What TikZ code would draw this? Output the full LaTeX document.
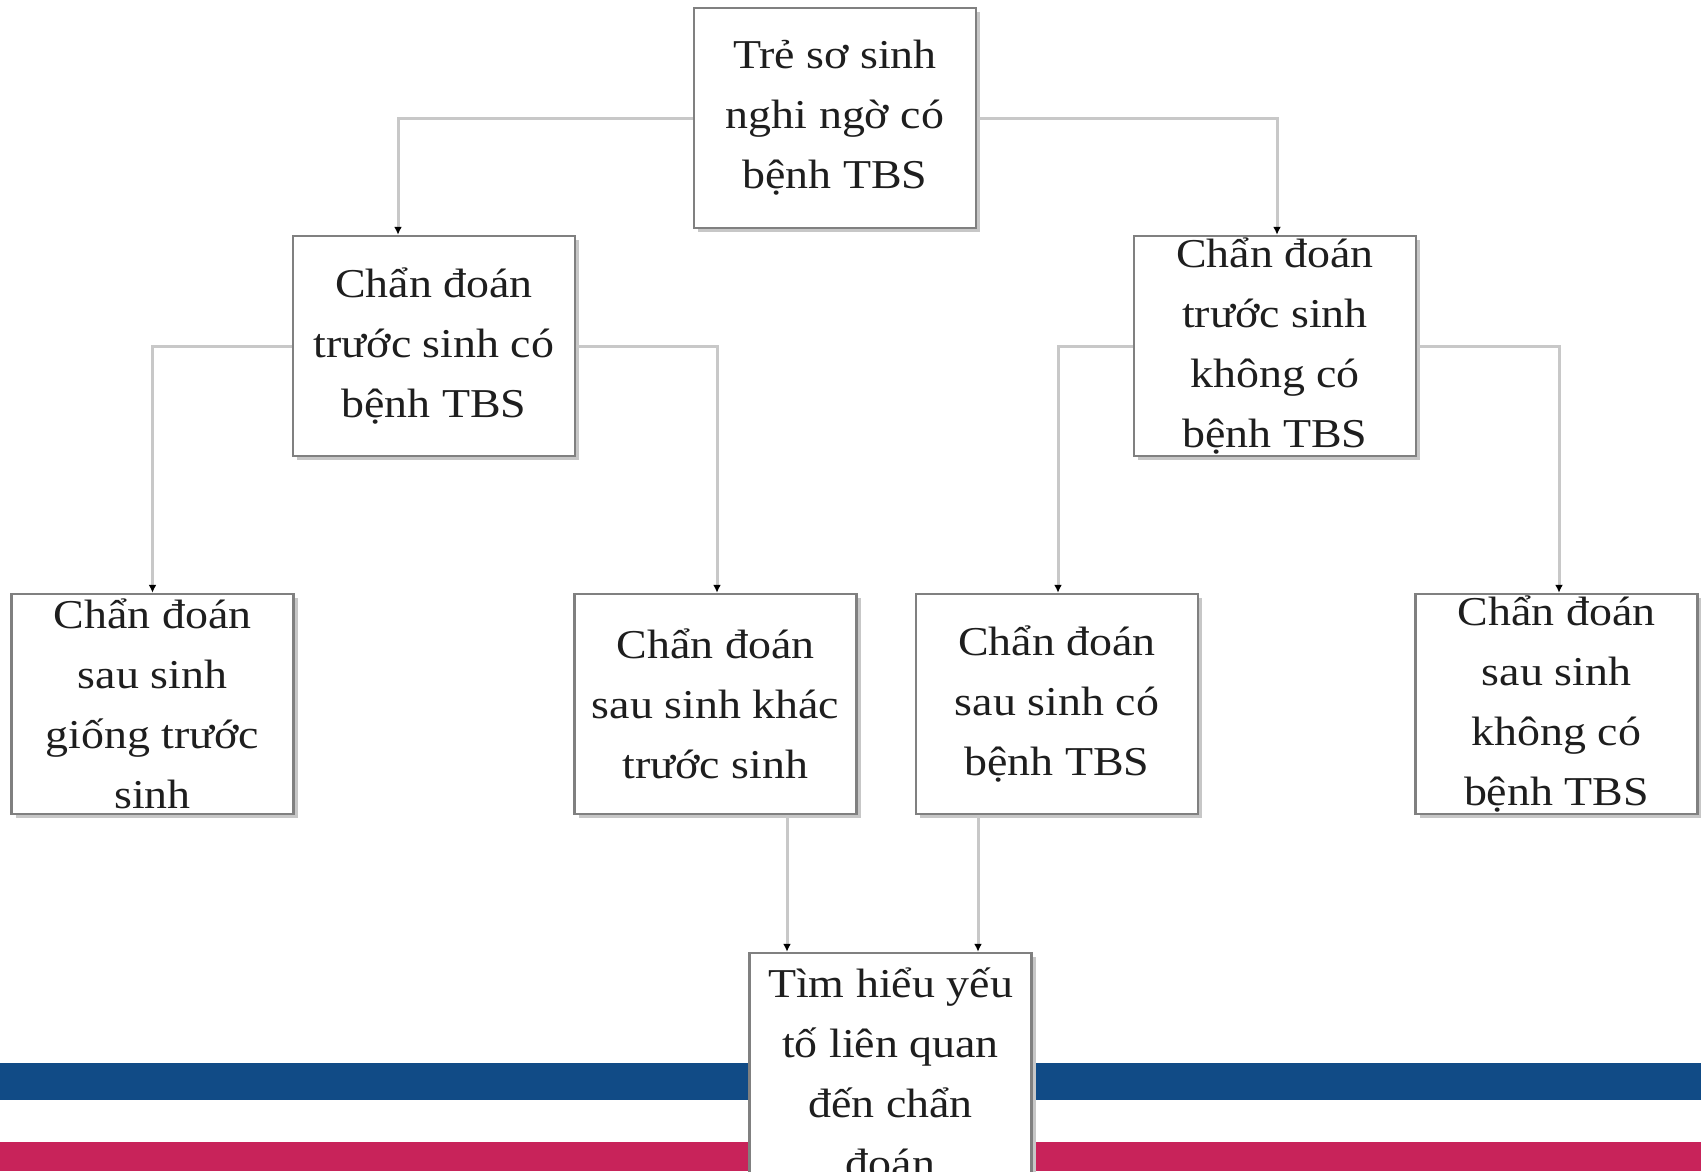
\documentclass[tikz,border=0pt]{standalone}
\usepackage{fontspec}
\setmainfont{Liberation Serif}[FakeStretch=1.12]
\usetikzlibrary{arrows.meta,shadows,calc}
\definecolor{stripeblue}{HTML}{114B86}
\definecolor{stripered}{HTML}{C8235A}
\definecolor{boxline}{HTML}{808080}
\definecolor{conn}{HTML}{C8C8C8}
\definecolor{txt}{HTML}{1E1E1E}
\tikzset{
  box/.style={draw=boxline, line width=2.5pt, fill=white, inner sep=0pt,
    minimum width=282pt, minimum height=220pt, align=center, text=txt,
    font=\fontsize{41}{60}\selectfont,
    drop shadow={shadow xshift=4pt, shadow yshift=-4pt, fill=black!22, opacity=1}},
  conn/.style={draw=conn, line width=3pt, -{Latex[black,length=8pt,width=8pt]}}
}
\begin{document}
\begin{tikzpicture}[x=1pt,y=-1pt]
\useasboundingbox (0,0) rectangle (1701,1171);
\clip (0,0) rectangle (1701,1171);
\fill[white] (0,0) rectangle (1701,1171);
% stripes
\fill[stripeblue] (0,1063) rectangle (1701,1100);
\fill[stripered] (0,1142) rectangle (1701,1171);
% boxes
\node[box] (top) at (835,118) {Trẻ sơ sinh\\nghi ngờ có\\bệnh TBS};
\node[box] (lm) at (434,346) {Chẩn đoán\\trước sinh có\\bệnh TBS};
\node[box] (rm) at (1275,346) {Chẩn đoán\\trước sinh\\không có\\bệnh TBS};
\node[box] (b1) at (152.5,704) {Chẩn đoán\\sau sinh\\giống trước\\sinh};
\node[box] (b2) at (715.5,704) {Chẩn đoán\\sau sinh khác\\trước sinh};
\node[box] (b3) at (1057,704) {Chẩn đoán\\sau sinh có\\bệnh TBS};
\node[box] (b4) at (1556.5,704) {Chẩn đoán\\sau sinh\\không có\\bệnh TBS};
\node[box, minimum height=240pt] (bot) at (890.5,1073) {Tìm hiểu yếu\\tố liên quan\\đến chẩn\\đoán};
% connectors
\draw[conn] (top.west) -| ([xshift=-36pt]lm.north);
\draw[conn] (top.east) -| ([xshift=2pt]rm.north);
\draw[conn] (lm.west) -| (b1.north);
\draw[conn] (lm.east) -| ([xshift=1.5pt]b2.north);
\draw[conn] (rm.west) -| ([xshift=1pt]b3.north);
\draw[conn] (rm.east) -| ([xshift=2.5pt]b4.north);
\draw[conn] ([xshift=71.5pt]b2.south) -- ([xshift=71.5pt]b2.south |- bot.north);
\draw[conn] ([xshift=-79pt]b3.south) -- ([xshift=-79pt]b3.south |- bot.north);
\end{tikzpicture}
\end{document}
